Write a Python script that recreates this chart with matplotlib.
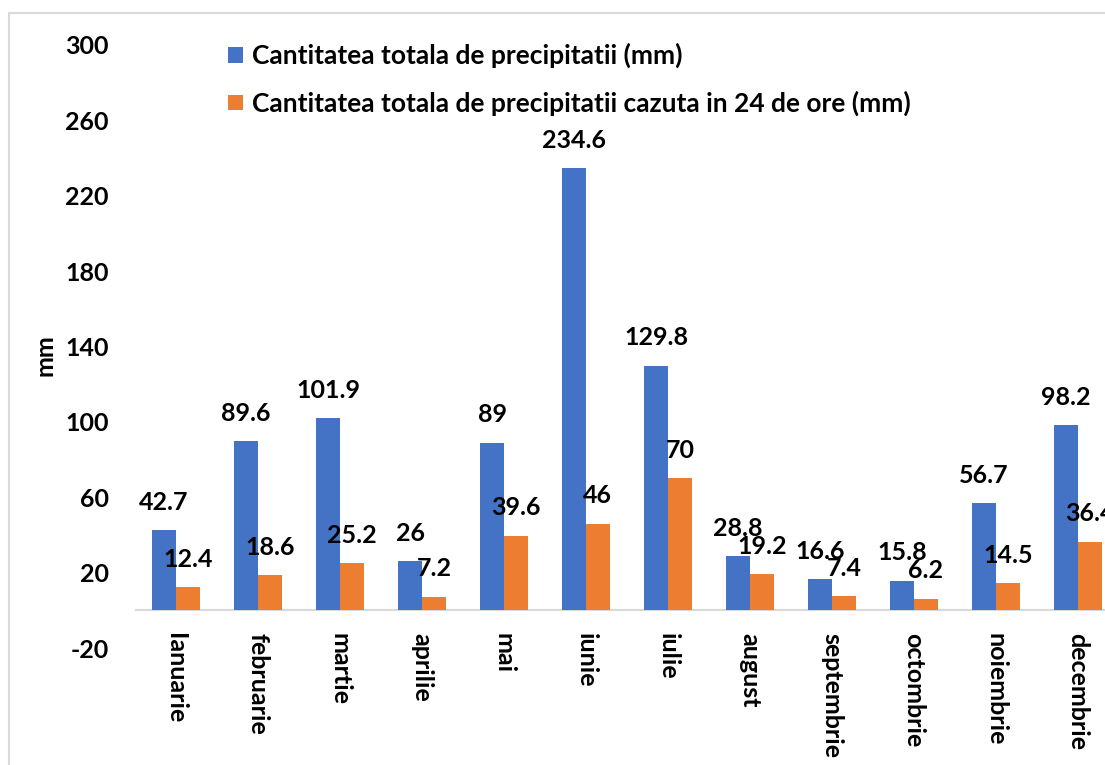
import numpy as np
import matplotlib
matplotlib.use('Agg')
import matplotlib.pyplot as plt
from matplotlib.patches import Rectangle

plt.rcParams['font.family'] = ['Lato', 'DejaVu Sans']
plt.rcParams['font.weight'] = 'bold'

months = ['Ianuarie', 'februarie', 'martie', 'aprilie', 'mai', 'iunie',
          'iulie', 'august', 'septembrie', 'octombrie', 'noiembrie', 'decembrie']
total = [42.7, 89.6, 101.9, 26, 89, 234.6, 129.8, 28.8, 16.6, 15.8, 56.7, 98.2]
in_24h = [12.4, 18.6, 25.2, 7.2, 39.6, 46, 70, 19.2, 7.4, 6.2, 14.5, 36.4]
yticks = [-20, 20, 60, 100, 140, 180, 220, 260, 300]

label_total = 'Cantitatea totala de precipitatii (mm)'
label_24h = 'Cantitatea totala de precipitatii cazuta in 24 de ore (mm)'

blue = '#4472C4'
orange = '#ED7D31'
fs = 18

fig = plt.figure(figsize=(11.05, 7.65), dpi=100)
# plot area runs past the right edge, like the cropped original
ax = fig.add_axes([135 / 1105, 1 - 648 / 765, 984 / 1105, 603 / 765])

x = np.arange(len(months))
w = 0.29
b1 = ax.bar(x - w / 2, total, w, color=blue, label=label_total)
b2 = ax.bar(x + w / 2, in_24h, w, color=orange, label=label_24h)

for bars, vals in [(b1, total), (b2, in_24h)]:
    for rect, v in zip(bars, vals):
        ax.annotate('{:g}'.format(v), (rect.get_x() + rect.get_width() / 2, v),
                    xytext=(0, 20), textcoords='offset points',
                    ha='center', va='center', fontsize=fs, fontweight='bold')

for i, m in enumerate(months):
    ax.annotate(m, (i, 0), xytext=(0, -16), textcoords='offset points',
                rotation=-90, ha='center', va='top', fontsize=fs,
                fontweight='bold')

ax.axhline(0, color='#d9d9d9', lw=1.5, zorder=0)
ax.set_xlim(-0.5, len(months) - 0.5)
ax.set_ylim(-20, 300)
ax.set_yticks(yticks)
ax.set_yticklabels([str(t) for t in yticks], fontsize=fs, fontweight='bold')
ax.set_xticks([])
ax.tick_params(axis='y', length=0, pad=19)
for s in ax.spines.values():
    s.set_visible(False)

fig.text(45 / 1105, 1 - 355 / 765, 'mm', rotation=90, ha='center', va='center',
         fontsize=fs, fontweight='bold')

fig.legend(handles=[b1, b2], loc='upper left',
           bbox_to_anchor=(228 / 1105, 1 - 43 / 765), frameon=False,
           borderaxespad=0, borderpad=0, handlelength=0.55, handleheight=0.55,
           handletextpad=0.35, labelspacing=0.85,
           prop={'size': 19, 'weight': 'bold'})

fig.patches.append(Rectangle((9 / 1105, -0.1), 1.2, 1.1 - 13 / 765,
                             transform=fig.transFigure, fill=False,
                             edgecolor='#d9d9d9', lw=1.5))

fig.savefig('out.png', dpi=100)
